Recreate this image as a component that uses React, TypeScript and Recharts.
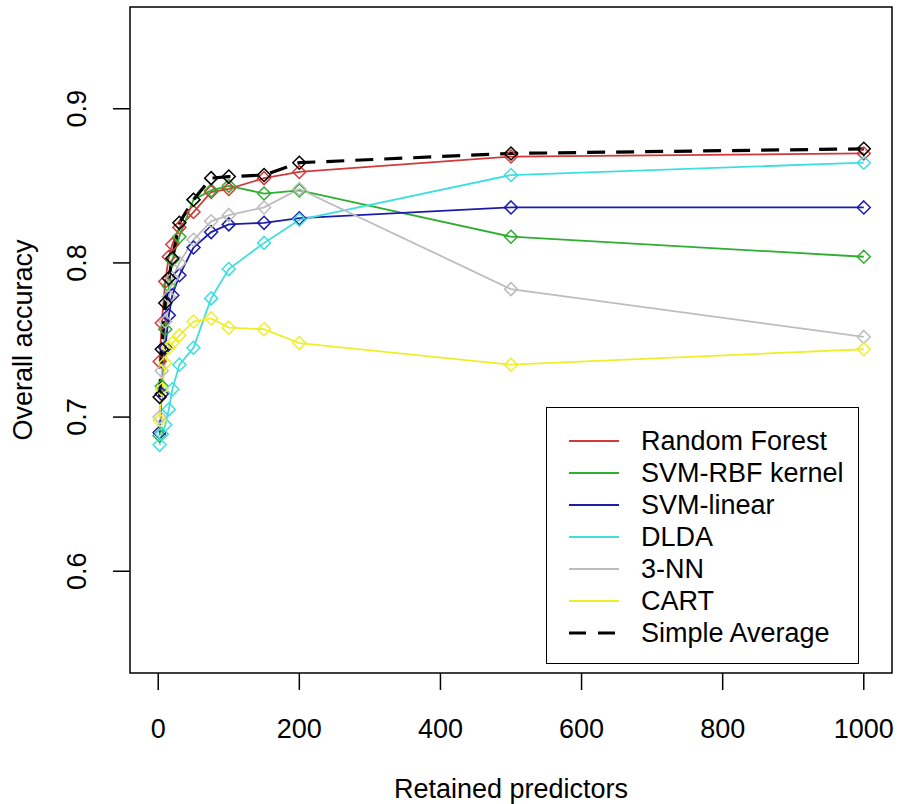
import { LineChart, Line, XAxis, YAxis, ReferenceArea, Legend } from "recharts";

// number of retained predictors (x)
const retained = [2, 5, 10, 15, 20, 30, 50, 75, 100, 150, 200, 500, 1000];

// overall accuracy per method
const randomForest = [0.736, 0.761, 0.788, 0.804, 0.812, 0.823, 0.833, 0.846, 0.848, 0.855, 0.859, 0.869, 0.871];
const svmRbf = [0.688, 0.72, 0.757, 0.785, 0.802, 0.817, 0.841, 0.847, 0.85, 0.845, 0.847, 0.817, 0.804];
const svmLinear = [0.69, 0.715, 0.745, 0.766, 0.779, 0.792, 0.81, 0.82, 0.825, 0.826, 0.829, 0.836, 0.836];
const dlda = [0.682, 0.689, 0.695, 0.705, 0.718, 0.734, 0.745, 0.777, 0.796, 0.813, 0.828, 0.857, 0.865];
const knn3 = [0.7, 0.73, 0.762, 0.778, 0.79, 0.8, 0.815, 0.827, 0.831, 0.836, 0.848, 0.783, 0.752];
const cart = [0.698, 0.718, 0.735, 0.745, 0.748, 0.753, 0.762, 0.764, 0.758, 0.757, 0.748, 0.734, 0.744];
const simpleAverage = [0.713, 0.744, 0.774, 0.79, 0.803, 0.826, 0.841, 0.855, 0.856, 0.857, 0.865, 0.871, 0.874];

const xTicks = [0, 200, 400, 600, 800, 1000];
const yTicks = [0.6, 0.7, 0.8, 0.9];

const series = [
  { key: "rf", name: "Random Forest", color: "#d23a3a", values: randomForest },
  { key: "rbf", name: "SVM-RBF kernel", color: "#2fae2f", values: svmRbf },
  { key: "lin", name: "SVM-linear", color: "#1c1cab", values: svmLinear },
  { key: "dlda", name: "DLDA", color: "#3fdfdf", values: dlda },
  { key: "knn", name: "3-NN", color: "#bdbdbd", values: knn3 },
  { key: "cart", name: "CART", color: "#eeee2a", values: cart },
  { key: "avg", name: "Simple Average", color: "#000000", values: simpleAverage, dashed: true },
];

const rows = retained.map((x, i) => {
  const row: Record<string, number> = { x };
  series.forEach((s) => (row[s.key] = s.values[i]));
  return row;
});

const FONT = "'Liberation Sans', Arial, sans-serif";
const FS = 27;

function diamond(color: string) {
  return (p: any) => {
    const { cx, cy, index } = p;
    if (cx == null || cy == null) return <g key={index} />;
    const r = 6.5;
    return (
      <path
        key={index}
        d={`M${cx},${cy - r}L${cx + r},${cy}L${cx},${cy + r}L${cx - r},${cy}Z`}
        fill="none"
        stroke={color}
        strokeWidth={1.5}
      />
    );
  };
}

function XTick({ x, y, payload }: any) {
  return (
    <text x={x} y={y + 46} textAnchor="middle" fontFamily={FONT} fontSize={FS} fill="#000">
      {payload.value}
    </text>
  );
}

function YTick({ x, y, payload }: any) {
  return (
    <text
      transform={`translate(${x - 25},${y}) rotate(-90)`}
      textAnchor="middle"
      fontFamily={FONT}
      fontSize={FS}
      fill="#000"
    >
      {payload.value.toFixed(1)}
    </text>
  );
}

function LegendBox() {
  return (
    <div
      style={{
        border: "1.5px solid #000",
        background: "#fff",
        boxSizing: "border-box",
        width: 313,
        height: 257,
        padding: "17px 0 0 0",
        fontFamily: FONT,
        fontSize: FS,
        color: "#000",
      }}
    >
      {series.map((s) => (
        <div key={s.key} style={{ display: "flex", alignItems: "center", height: 32 }}>
          <svg width={94} height={32} style={{ flex: "none" }}>
            <line
              x1={22}
              x2={72}
              y1={16}
              y2={16}
              stroke={s.color}
              strokeWidth={s.dashed ? 3.2 : 2}
              strokeDasharray={s.dashed ? "17 12" : undefined}
            />
          </svg>
          <span style={{ whiteSpace: "nowrap", lineHeight: "32px" }}>{s.name}</span>
        </div>
      ))}
    </div>
  );
}

export default function App() {
  return (
    <div style={{ position: "absolute", left: 0, top: 0, background: "#fff" }}>
      <LineChart width={898} height={804} data={rows} margin={{ top: 7, right: 6, left: 0, bottom: 0 }}>
        <XAxis
          dataKey="x"
          type="number"
          domain={[-40, 1040]}
          ticks={xTicks}
          allowDataOverflow
          axisLine={false}
          tickSize={17}
          tickLine={{ stroke: "#000", strokeWidth: 1.5 }}
          tick={<XTick />}
          height={131}
          label={{
            content: ({ viewBox }: any) => (
              <text
                x={viewBox.x + viewBox.width / 2}
                y={viewBox.y + 125}
                textAnchor="middle"
                fontFamily={FONT}
                fontSize={FS}
                fill="#000"
              >
                Retained predictors
              </text>
            ),
          }}
        />
        <YAxis
          type="number"
          domain={[0.534, 0.966]}
          ticks={yTicks}
          allowDataOverflow
          axisLine={false}
          tickSize={17}
          tickLine={{ stroke: "#000", strokeWidth: 1.5 }}
          tick={<YTick />}
          width={130}
          label={{
            content: ({ viewBox }: any) => (
              <text
                transform={`translate(${viewBox.x + 32},${viewBox.y + viewBox.height / 2}) rotate(-90)`}
                textAnchor="middle"
                fontFamily={FONT}
                fontSize={FS}
                fill="#000"
              >
                Overall accuracy
              </text>
            ),
          }}
        />
        <ReferenceArea
          x1={-40}
          x2={1040}
          y1={0.534}
          y2={0.966}
          fill="none"
          stroke="#000"
          strokeWidth={1.5}
          ifOverflow="visible"
        />
        {series.map((s) => (
          <Line
            key={s.key}
            dataKey={s.key}
            name={s.name}
            type="linear"
            stroke={s.color}
            strokeWidth={s.dashed ? 3.2 : 1.8}
            strokeDasharray={s.dashed ? "18 11" : undefined}
            dot={diamond(s.color)}
            activeDot={false}
            isAnimationActive={false}
          />
        ))}
        <Legend
          layout="horizontal"
          verticalAlign="middle"
          content={() => <LegendBox />}
          wrapperStyle={{ position: "absolute", left: 546, top: 407, width: 313, height: 257 }}
        />
      </LineChart>
    </div>
  );
}
